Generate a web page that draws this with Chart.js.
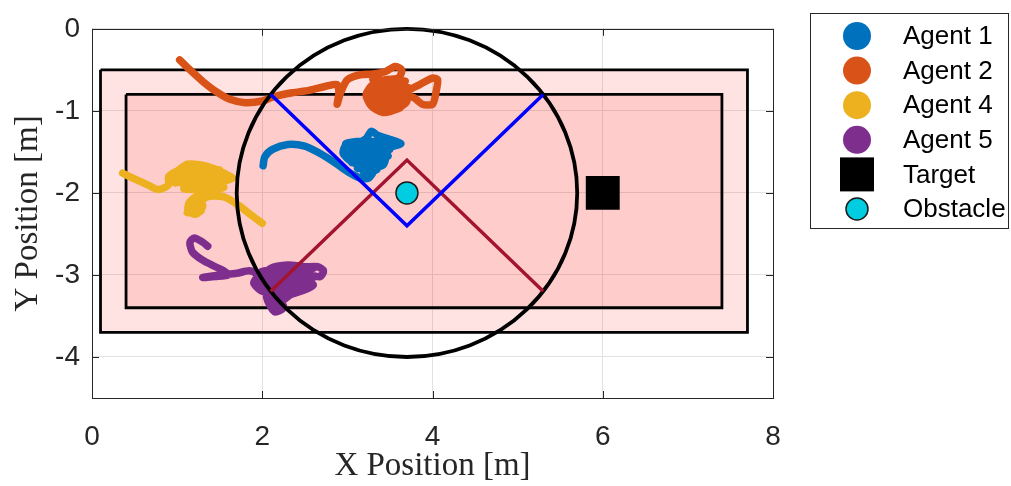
<!DOCTYPE html>
<html>
<head>
<meta charset="utf-8">
<script src="https://cdn.jsdelivr.net/npm/chart.js@4.4.1/dist/chart.umd.min.js"></script>
<style>
	body { margin: 0; background: #fff; }
</style>
</head>
<body>
<canvas id="myChart" width="1011" height="486"></canvas>
<script>
// axis ticks
var xTicks = [0, 2, 4, 6, 8];
var yTicks = [0, -1, -2, -3, -4];

// arena rectangles (closed)
var outerRect = [[0.1, -0.5], [7.7, -0.5], [7.7, -3.7], [0.1, -3.7], [0.1, -0.5]];
var innerRect = [[0.4, -0.8], [7.4, -0.8], [7.4, -3.4], [0.4, -3.4], [0.4, -0.8]];

// sensing circle round the obstacle
var circleCenter = [3.7, -2];
var circleRadius = 2;

// V shaped boundaries
var blueV = [[2.1, -0.8], [3.7, -2.4], [5.3, -0.8]];
var redV = [[2.1, -3.2], [3.7, -1.6], [5.3, -3.2]];

var obstacle = [[3.7, -2]];
var target = [[6, -2]];

// agent trajectories
var agent1 = [[2.01,-1.67],[2.03,-1.56],[2.12,-1.47],[2.3,-1.41],[2.5,-1.43],[2.68,-1.52],[2.85,-1.63],[3.0,-1.74],[3.15,-1.82],[3.25,-1.82],[3.3,-1.74],[3.2,-1.68],[3.05,-1.62],[2.95,-1.52],[2.98,-1.42],[3.1,-1.4],[3.22,-1.34],[3.28,-1.25],[3.36,-1.3],[3.48,-1.34],[3.63,-1.4],[3.5,-1.44],[3.4,-1.45],[3.45,-1.56],[3.42,-1.66],[3.3,-1.68],
	[2.98,-1.4],[3.45,-1.38],[2.96,-1.48],[3.5,-1.47],[3.0,-1.56],[3.48,-1.55],[3.05,-1.63],[3.42,-1.63],[3.12,-1.7],[3.35,-1.71],[3.2,-1.76],
	[3.15,-1.6],[3.08,-1.5],[3.2,-1.46],[3.32,-1.5],[3.35,-1.6],[3.22,-1.56],[3.12,-1.42]];
var agent2 = [[1.03,-0.38],[1.15,-0.5],[1.3,-0.64],[1.45,-0.76],[1.62,-0.86],[1.8,-0.9],[2.0,-0.88],[2.13,-0.83],[2.35,-0.78],[2.55,-0.75],[2.75,-0.7],[2.88,-0.68],[2.9,-0.78],[2.88,-0.92],[2.92,-0.78],[3.0,-0.62],[3.15,-0.56],[3.3,-0.55],[3.45,-0.52],[3.56,-0.46],[3.64,-0.5],[3.6,-0.6],[3.45,-0.62],[3.3,-0.68],[3.22,-0.8],[3.28,-0.94],[3.42,-1.02],[3.58,-0.98],[3.7,-0.88],[3.68,-0.72],[3.55,-0.64],
	[3.3,-0.62],[3.68,-0.64],[3.28,-0.7],[3.72,-0.72],[3.26,-0.78],[3.72,-0.8],[3.28,-0.86],[3.7,-0.88],[3.32,-0.93],[3.62,-0.96],[3.42,-1.0],
	[3.4,-0.7],[3.32,-0.8],[3.38,-0.92],[3.52,-0.94],[3.62,-0.84],[3.56,-0.72],[3.44,-0.76],[3.42,-0.86],[3.55,-0.86],[3.7,-0.76],[3.85,-0.68],[4.0,-0.6],[4.06,-0.62],[4.04,-0.78],[4.0,-0.92],[3.88,-0.92],[3.78,-0.84],[3.64,-0.8],[3.5,-0.82]];
var agent4 = [[0.36,-1.76],[0.5,-1.83],[0.65,-1.9],[0.78,-1.96],[0.9,-1.9],[0.9,-1.8],[1.02,-1.72],[1.12,-1.65],[1.28,-1.66],[1.42,-1.7],[1.55,-1.76],[1.65,-1.82],[1.5,-1.86],[1.3,-1.8],[1.1,-1.82],[0.98,-1.88],
	[0.95,-1.76],[1.5,-1.72],[0.98,-1.82],[1.58,-1.8],[1.05,-1.88],[1.5,-1.88],[1.1,-1.95],[1.4,-1.96],
	[1.08,-1.95],[1.25,-1.92],[1.42,-1.88],[1.55,-1.93],[1.4,-1.98],[1.25,-2.03],[1.14,-2.12],[1.13,-2.22],[1.22,-2.26],[1.3,-2.17],[1.26,-2.06],[1.18,-2.1],[1.2,-2.2],
	[1.15,-2.15],[1.27,-2.12],[1.28,-2.22],[1.12,-2.24],[1.2,-2.18],
	[1.35,-2.05],[1.55,-2.05],[1.72,-2.15],[1.88,-2.28],[2.0,-2.37]];
var agent5 = [[1.36,-2.65],[1.3,-2.6],[1.2,-2.55],[1.15,-2.6],[1.18,-2.72],[1.3,-2.82],[1.45,-2.9],[1.55,-2.95],[1.6,-3.0],[1.45,-3.02],[1.3,-3.03],[1.5,-3.0],[1.7,-2.98],[1.85,-2.95],[1.95,-3.0],[1.9,-3.1],[2.0,-3.2],[1.98,-3.05],[2.1,-2.92],[2.3,-2.88],[2.5,-2.9],[2.65,-2.9],[2.72,-2.95],[2.68,-3.02],[2.55,-3.0],
	[2.0,-2.95],[2.6,-2.92],[1.98,-3.02],[2.62,-3.02],[2.02,-3.1],[2.5,-3.08],[2.05,-3.18],[2.4,-3.16],[2.1,-3.25],[2.3,-3.22],[2.15,-3.32],[2.25,-3.38],[2.12,-3.42],
	[2.5,-3.1],[2.4,-3.15],[2.3,-3.2],[2.2,-3.28],[2.25,-3.4],[2.15,-3.45],[2.08,-3.35],[2.05,-3.25],[2.2,-3.1],[2.35,-3.0],[2.2,-2.98],[2.05,-3.1],[2.15,-3.2],[2.3,-3.1],[2.45,-3.05],[2.6,-3.12],[2.5,-3.18],[2.3,-3.25],[2.15,-3.3]];

var legendLabels = ['Agent 1', 'Agent 2', 'Agent 4', 'Agent 5', 'Target', 'Obstacle'];

function pts(arr) {
	return arr.map(function (p) { return { x: p[0], y: p[1] }; });
}

function trail(label, arr, color) {
	return {
		label: label,
		data: pts(arr),
		showLine: true,
		borderColor: color,
		backgroundColor: color,
		borderWidth: 7.5,
		pointRadius: 0,
		tension: 0.25,
		borderCapStyle: 'round',
		borderJoinStyle: 'round',
		order: 4
	};
}

// circle drawn with the scales, just before the V lines
var circlePlugin = {
	id: 'circlePlugin',
	beforeDatasetDraw: function (chart, args) {
		if (chart.data.datasets[args.index].label !== 'redV') return;
		var xs = chart.scales.x, ys = chart.scales.y, ctx = chart.ctx;
		var cx = xs.getPixelForValue(circleCenter[0]);
		var cy = ys.getPixelForValue(circleCenter[1]);
		var rx = xs.getPixelForValue(circleCenter[0] + circleRadius) - cx;
		var ry = cy - ys.getPixelForValue(circleCenter[1] + circleRadius);
		ctx.save();
		ctx.beginPath();
		ctx.ellipse(cx, cy, rx, ry, 0, 0, Math.PI * 2);
		ctx.lineWidth = 3.8;
		ctx.strokeStyle = '#000';
		ctx.stroke();
		ctx.restore();
	}
};

// box, inner ticks and legend
var framePlugin = {
	id: 'framePlugin',
	afterDraw: function (chart) {
		var ctx = chart.ctx, a = chart.chartArea;
		var xs = chart.scales.x, ys = chart.scales.y;
		ctx.save();
		ctx.strokeStyle = '#262626';
		ctx.lineWidth = 1;
		ctx.strokeRect(Math.round(a.left) + 0.5, Math.round(a.top) + 0.5, Math.round(a.right - a.left), Math.round(a.bottom - a.top));
		ctx.beginPath();
		xTicks.forEach(function (v) {
			var px = Math.round(xs.getPixelForValue(v)) + 0.5;
			ctx.moveTo(px, a.bottom); ctx.lineTo(px, a.bottom - 7);
			ctx.moveTo(px, a.top); ctx.lineTo(px, a.top + 7);
		});
		yTicks.forEach(function (v) {
			var py = Math.round(ys.getPixelForValue(v)) + 0.5;
			ctx.moveTo(a.left, py); ctx.lineTo(a.left + 7, py);
			ctx.moveTo(a.right, py); ctx.lineTo(a.right - 7, py);
		});
		ctx.stroke();

		// legend
		ctx.fillStyle = '#fff';
		ctx.fillRect(810, 13, 198, 215);
		ctx.strokeRect(810.5, 13.5, 198, 215);
		ctx.font = '26px "Liberation Sans", Arial, sans-serif';
		ctx.textBaseline = 'middle';
		ctx.textAlign = 'left';
		legendLabels.forEach(function (lab, i) {
			var ds = chart.data.datasets.find(function (d) { return d.label === lab; });
			var y = 36 + i * 34.6;
			var x = 857;
			ctx.beginPath();
			if (lab === 'Target') {
				ctx.fillStyle = '#000';
				ctx.fillRect(x - 17, y - 17, 34, 34);
			} else if (lab === 'Obstacle') {
				ctx.arc(x, y, 11, 0, Math.PI * 2);
				ctx.fillStyle = ds.backgroundColor;
				ctx.fill();
				ctx.lineWidth = 1.5;
				ctx.strokeStyle = '#1a1a1a';
				ctx.stroke();
			} else {
				ctx.arc(x, y, 14, 0, Math.PI * 2);
				ctx.fillStyle = ds.borderColor;
				ctx.fill();
			}
			ctx.fillStyle = '#000';
			ctx.fillText(lab, 903, y + 1);
		});
		ctx.restore();
	}
};

var ctx = document.getElementById('myChart').getContext('2d');
var myChart = new Chart(ctx, {
	type: 'scatter',
	data: {
		datasets: [
			{
				label: 'Target',
				data: pts(target),
				pointStyle: 'rect',
				pointRadius: 24,
				backgroundColor: '#000',
				borderColor: '#000',
				borderWidth: 0,
				order: 0
			},
			{
				label: 'Obstacle',
				data: pts(obstacle),
				pointRadius: 11,
				backgroundColor: '#00CDE0',
				borderColor: '#1a1a1a',
				borderWidth: 1.5,
				order: 1
			},
			{
				label: 'blueV',
				data: pts(blueV),
				showLine: true,
				borderColor: '#0000FF',
				borderWidth: 3.5,
				pointRadius: 0,
				order: 2
			},
			{
				label: 'redV',
				data: pts(redV),
				showLine: true,
				borderColor: '#A2142F',
				borderWidth: 3.5,
				pointRadius: 0,
				order: 3
			},
			trail('Agent 1', agent1, '#0072BD'),
			trail('Agent 2', agent2, '#D95319'),
			trail('Agent 4', agent4, '#EDB120'),
			trail('Agent 5', agent5, '#7E2F8E'),
			{
				label: 'inner',
				data: pts(innerRect),
				showLine: true,
				fill: 'shape',
				backgroundColor: 'rgba(255,0,0,0.1)',
				borderColor: '#000',
				borderWidth: 2.8,
				pointRadius: 0,
				order: 8
			},
			{
				label: 'outer',
				data: pts(outerRect),
				showLine: true,
				fill: 'shape',
				backgroundColor: 'rgba(255,0,0,0.11)',
				borderColor: '#000',
				borderWidth: 2.8,
				pointRadius: 0,
				order: 9
			}
		]
	},
	options: {
		responsive: false,
		animation: false,
		layout: {
			padding: { top: 15, right: 238, bottom: 0, left: 0 }
		},
		plugins: {
			legend: { display: false },
			tooltip: { enabled: false }
		},
		scales: {
			x: {
				type: 'linear',
				min: 0,
				max: 8,
				afterBuildTicks: function (s) { s.ticks = xTicks.map(function (v) { return { value: v }; }); },
				afterFit: function (s) { s.height = 88; },
				grid: { color: '#e2e2e2', drawTicks: false },
				border: { display: false },
				ticks: {
					padding: 22,
					color: '#262626',
					font: { family: '"Liberation Sans", Arial, sans-serif', size: 28 }
				},
				title: {
					display: true,
					text: 'X Position [m]',
					color: '#262626',
					padding: { top: 0, bottom: 3 },
					font: { family: '"Liberation Serif", serif', size: 33, lineHeight: 1 }
				}
			},
			y: {
				type: 'linear',
				min: -4.5,
				max: 0,
				afterBuildTicks: function (s) { s.ticks = yTicks.map(function (v) { return { value: v }; }); },
				afterFit: function (s) { s.width = 92; },
				grid: { color: '#e2e2e2', drawTicks: false },
				border: { display: false },
				ticks: {
					padding: 12,
					color: '#262626',
					font: { family: '"Liberation Sans", Arial, sans-serif', size: 28 }
				},
				title: {
					display: true,
					text: 'Y Position [m]',
					color: '#262626',
					padding: { top: 12, bottom: 0 },
					font: { family: '"Liberation Serif", serif', size: 33, lineHeight: 1 }
				}
			}
		}
	},
	plugins: [circlePlugin, framePlugin]
});
</script>
</body>
</html>
